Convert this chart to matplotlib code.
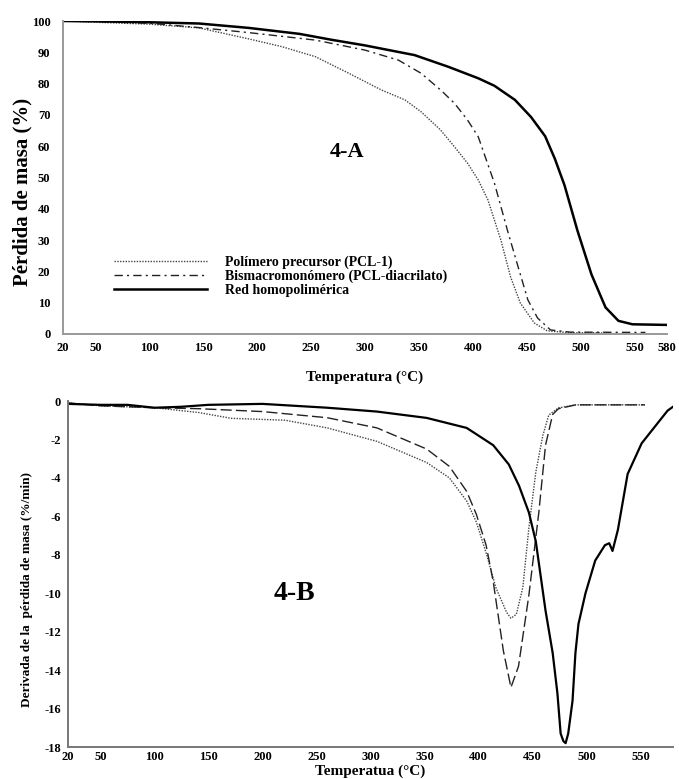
import matplotlib
matplotlib.use("Agg")
import matplotlib.pyplot as plt

plt.rcParams['font.family'] = ['Liberation Serif', 'DejaVu Serif']
plt.rcParams['font.weight'] = 'bold'
plt.rcParams['axes.unicode_minus'] = False

# ---- Panel A data (TGA) ----
T_pcl = [20, 50, 100, 146, 192, 223, 254, 285, 315, 337, 352, 370, 383, 395, 405, 414, 426, 435, 444, 457, 469, 490, 520]
W_pcl = [100, 99.6, 99.0, 97.8, 94.3, 91.8, 88.6, 83.3, 78.0, 74.8, 71.0, 65.2, 59.8, 54.6, 49.2, 42.8, 30.0, 18.2, 9.9, 3.5, 1.0, 0.4, 0.4]

T_diac = [20, 50, 100, 146, 192, 254, 300, 331, 352, 370, 383, 395, 405, 420, 432, 442, 451, 460, 472, 490, 560]
W_diac = [100, 99.8, 99.3, 97.9, 96.3, 93.9, 90.7, 87.5, 83.3, 78.0, 73.7, 68.4, 63.0, 48.2, 33.2, 21.4, 10.9, 5.1, 1.3, 0.6, 0.5]

T_red = [20, 50, 100, 146, 192, 239, 269, 300, 346, 377, 405, 420, 439, 454, 467, 476, 485, 497, 510, 523, 535, 548, 580]
W_red = [100, 99.9, 99.6, 99.2, 97.8, 95.9, 94.0, 92.2, 89.1, 85.4, 81.7, 79.3, 74.8, 69.3, 63.2, 56.0, 47.5, 33.0, 19.0, 8.5, 4.2, 3.1, 2.9]

# ---- Panel B data (DTG) ----
T_d_red = [20, 50, 75, 100, 125, 150, 200, 260, 306, 352, 389, 413.6, 428, 437.4, 446.6, 453, 462, 468.6, 473, 476,
           478.6, 480.6, 483, 487, 489.7, 492.5, 499, 508, 517, 521, 524, 529, 538, 551, 563, 575, 580]
D_red = [-0.15, -0.2, -0.2, -0.35, -0.3, -0.2, -0.15, -0.35, -0.55, -0.88, -1.4, -2.3, -3.3, -4.4, -5.8, -7.3, -10.9, -13.1, -15.2, -17.3,
         -17.7, -17.8, -17.3, -15.6, -13.1, -11.6, -10.0, -8.3, -7.5, -7.4, -7.8, -6.7, -3.8, -2.2, -1.35, -0.5, -0.3]

T_d_diac = [20, 50, 100, 141, 200, 260, 306, 352, 373, 389, 398, 407, 413.6, 423, 430, 437, 446.6, 455.8, 462, 468.6, 474, 490, 554]
D_diac = [-0.1, -0.25, -0.35, -0.4, -0.55, -0.87, -1.4, -2.5, -3.4, -4.7, -5.9, -7.5, -9.4, -13.0, -14.9, -13.8, -10.1, -5.8, -2.3, -0.7, -0.4, -0.2, -0.2]

T_d_pcl = [20, 50, 100, 141, 171, 221, 260, 306, 352, 373, 389, 398, 407, 416, 426, 430, 435, 441, 446.6, 453, 459.5, 465, 474, 490, 554]
D_pcl = [-0.1, -0.25, -0.35, -0.6, -0.9, -1.0, -1.4, -2.1, -3.2, -4.0, -5.2, -6.3, -7.9, -9.7, -11.0, -11.3, -11.1, -9.7, -6.6, -3.7, -1.8, -0.73, -0.36, -0.2, -0.2]

labels = ["Polímero precursor (PCL-1)", "Bismacromonómero (PCL-diacrilato)", "Red homopolimérica"]
xticks_a = [20, 50, 100, 150, 200, 250, 300, 350, 400, 450, 500, 550, 580]
xticks_b = [20, 50, 100, 150, 200, 250, 300, 350, 400, 450, 500, 550]
yticks_a = list(range(0, 101, 10))
yticks_b = list(range(0, -19, -2))

fig = plt.figure(figsize=(6.79, 7.79), dpi=100)

# ---- Panel A ----
ax1 = fig.add_axes([63/679, 1-334/779, (667-63)/679, (334-21)/779])
ax1.plot(T_pcl, W_pcl, color='#444444', lw=1.0, linestyle=(0, (1, 1)), label=labels[0])
ax1.plot(T_diac, W_diac, color='#222222', lw=1.0, linestyle=(0, (6, 3, 1.5, 3)), label=labels[1])
ax1.plot(T_red, W_red, color='black', lw=1.8, label=labels[2])
ax1.set_xlim(20, 580)
ax1.set_ylim(0, 100)
ax1.set_xticks(xticks_a)
ax1.set_yticks(yticks_a)
ax1.tick_params(length=0, labelsize=9, pad=9)
ax1.tick_params(axis='x', pad=6)
for s in ['top', 'right']:
    ax1.spines[s].set_visible(False)
for s in ['left', 'bottom']:
    ax1.spines[s].set_color('#999999')
    ax1.spines[s].set_linewidth(1.4)
for lab in ax1.get_xticklabels() + ax1.get_yticklabels():
    lab.set_fontweight('bold')
ax1.set_ylabel("Pérdida de masa (%)", fontsize=15, fontweight='bold')
ax1.yaxis.set_label_coords(-0.051, 0.454)
ax1.set_xlabel("Temperatura (°C)", fontsize=11, fontweight='bold', labelpad=12)
ax1.text(283, 58, "4-A", fontsize=16, fontweight='bold', ha='center', va='center')
leg = ax1.legend(loc='upper left', bbox_to_anchor=(0.075, 0.269), frameon=False,
                 prop={'size': 10, 'weight': 'bold'}, handlelength=6.7, handletextpad=1.3,
                 labelspacing=0.05, borderaxespad=0)

# ---- Panel B ----
ax2 = fig.add_axes([68/679, 1-747/779, (673-68)/679, (747-401)/779])
ax2.plot(T_d_pcl, D_pcl, color='#444444', lw=1.0, linestyle=(0, (1, 1)))
ax2.plot(T_d_diac, D_diac, color='#222222', lw=1.0, linestyle=(0, (8, 3)))
ax2.plot(T_d_red, D_red, color='black', lw=1.6)
ax2.set_xlim(20, 580)
ax2.set_ylim(-18, 0)
ax2.set_xticks(xticks_b)
ax2.set_yticks(yticks_b)
ax2.tick_params(length=0, labelsize=9, pad=5)
ax2.tick_params(axis='x', pad=3)
for s in ['top', 'right']:
    ax2.spines[s].set_visible(False)
for s in ['left', 'bottom']:
    ax2.spines[s].set_color('#777777')
    ax2.spines[s].set_linewidth(1.4)
for lab in ax2.get_xticklabels() + ax2.get_yticklabels():
    lab.set_fontweight('bold')
ax2.set_ylabel("Derivada de la  pérdida de masa (%/min)", fontsize=9.5, fontweight='bold')
ax2.yaxis.set_label_coords(-0.058, 0.454)
ax2.set_xlabel("Temperatua (°C)", fontsize=11, fontweight='bold', labelpad=1)
ax2.text(230, -10.0, "4-B", fontsize=20, fontweight='bold', ha='center', va='center')

fig.savefig("out.png", dpi=100)
